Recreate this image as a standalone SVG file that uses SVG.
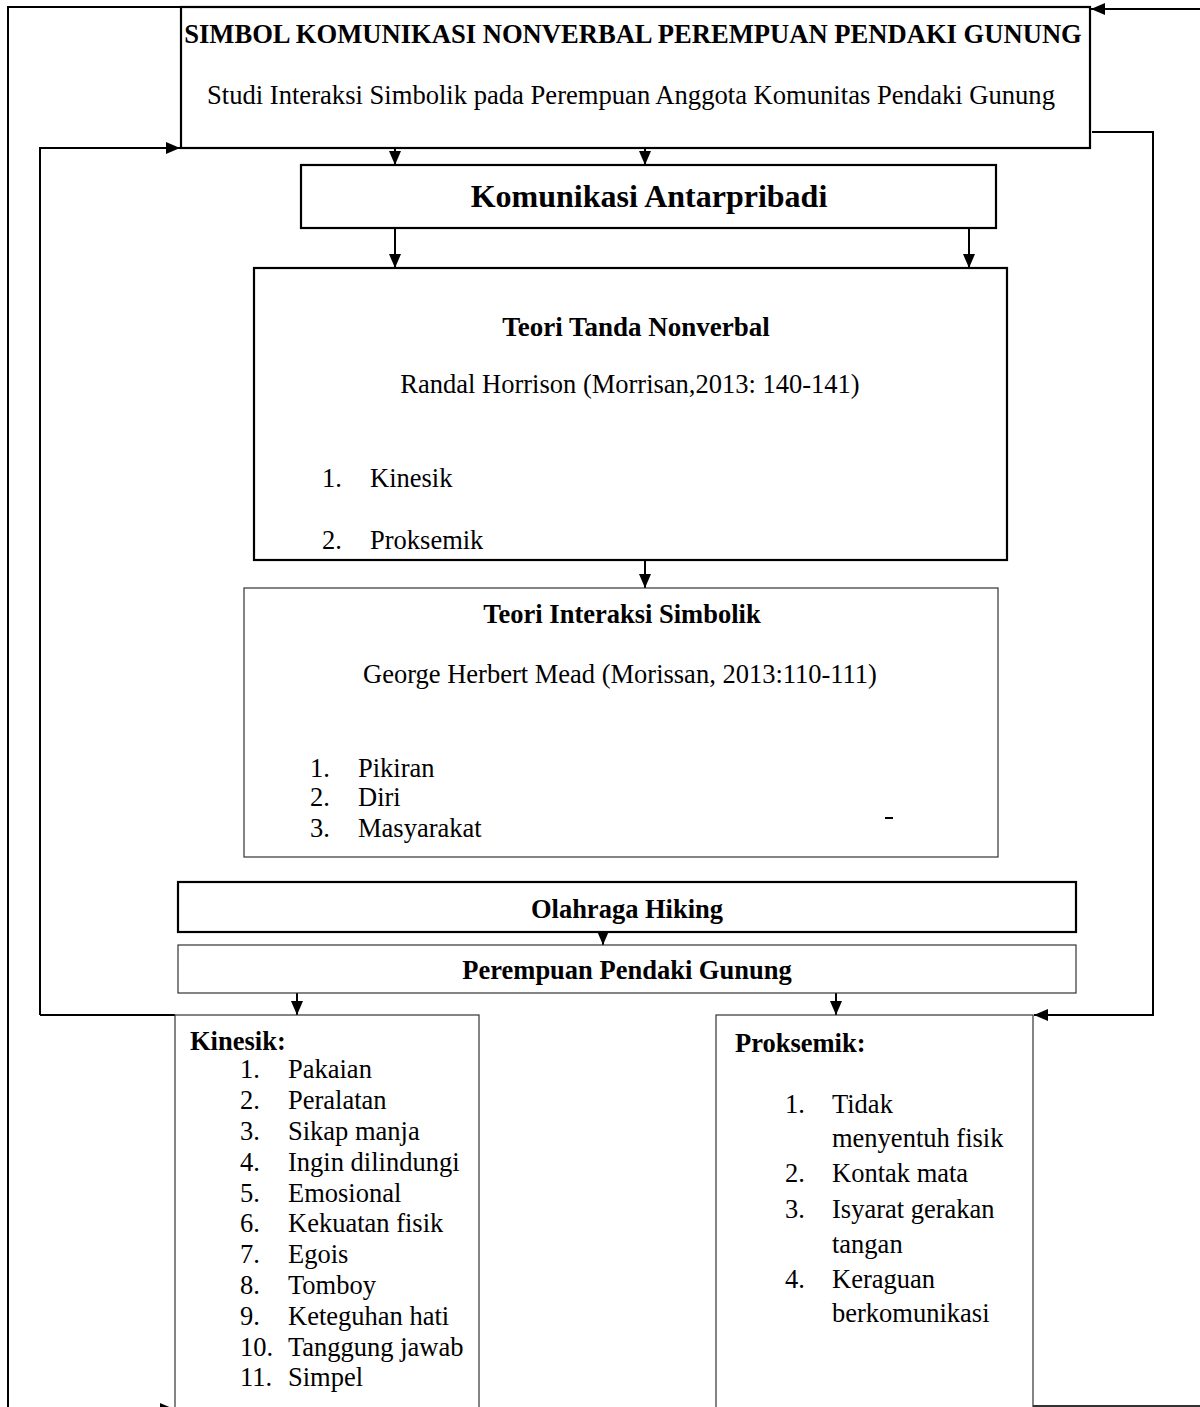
<svg xmlns="http://www.w3.org/2000/svg" width="1200" height="1407" viewBox="0 0 1200 1407">
<style>
text{font-family:"Liberation Serif","Times New Roman",serif;font-size:26.5px;fill:#000}
.b{font-weight:bold}
.c{text-anchor:middle}
.t1{font-size:26.6px}
.t2{font-size:32px}
.t3{font-size:27px}
.thick{fill:#fff;stroke:#000;stroke-width:2.2}
.thin{fill:#fff;stroke:#333;stroke-width:1.2}
.ln{fill:none;stroke:#000;stroke-width:2}
</style>
<defs>
<marker id="ah" markerUnits="userSpaceOnUse" markerWidth="14" markerHeight="14" viewBox="0 0 14 14" refX="14" refY="7" orient="auto">
<path d="M0,1 L14,7 L0,13 Z" fill="#000"/>
</marker>
</defs>
<g id="connectors">
<polyline class="ln" points="8,1407 8,7 181,7"/>
<line class="ln" x1="1200" y1="9" x2="1091" y2="9" marker-end="url(#ah)"/>
<polyline class="ln" points="40,1015 40,148 180,148" marker-end="url(#ah)"/>
<line class="ln" x1="40" y1="1015" x2="175" y2="1015"/>
<polyline class="ln" points="1092,132 1153,132 1153,1015 1034,1015" marker-end="url(#ah)"/>
<line class="ln" x1="395" y1="148" x2="395" y2="165" marker-end="url(#ah)"/>
<line class="ln" x1="645" y1="148" x2="645" y2="165" marker-end="url(#ah)"/>
<line class="ln" x1="395" y1="228" x2="395" y2="268" marker-end="url(#ah)"/>
<line class="ln" x1="969" y1="228" x2="969" y2="268" marker-end="url(#ah)"/>
<line class="ln" x1="645" y1="560" x2="645" y2="588" marker-end="url(#ah)"/>
<line class="ln" x1="603" y1="932" x2="603" y2="945" marker-end="url(#ah)"/>
<line class="ln" x1="297" y1="993" x2="297" y2="1015" marker-end="url(#ah)"/>
<line class="ln" x1="836" y1="993" x2="836" y2="1015" marker-end="url(#ah)"/>
<line class="ln" x1="8" y1="1409" x2="174" y2="1409" marker-end="url(#ah)"/>
<line x1="1009" y1="1406" x2="1200" y2="1406" stroke="#333" stroke-width="2"/>
</g>
<g id="title">
<rect class="thick" x="181" y="7" width="909" height="141"/>
<text class="b c t1" x="633" y="43">SIMBOL KOMUNIKASI NONVERBAL PEREMPUAN PENDAKI GUNUNG</text>
<text class="c t1" x="631" y="104">Studi Interaksi Simbolik pada Perempuan Anggota Komunitas Pendaki Gunung</text>
</g>
<g id="komunikasi">
<rect class="thick" x="301" y="165" width="695" height="63"/>
<text class="b c t2" x="649" y="207">Komunikasi Antarpribadi</text>
</g>
<g id="teori-tanda">
<rect class="thick" x="254" y="268" width="753" height="292"/>
<text class="b c t3" x="636" y="336">Teori Tanda Nonverbal</text>
<text class="c" x="630" y="393">Randal Horrison (Morrisan,2013: 140-141)</text>
<text x="322" y="487">1.</text><text x="370" y="487">Kinesik</text>
<text x="322" y="549">2.</text><text x="370" y="549">Proksemik</text>
</g>
<g id="teori-interaksi">
<rect class="thin" x="244" y="588" width="754" height="269"/>
<text class="b c" x="622" y="623">Teori Interaksi Simbolik</text>
<text class="c" x="620" y="683">George Herbert Mead (Morissan, 2013:110-111)</text>
<text x="310" y="777">1.</text><text x="358" y="777">Pikiran</text>
<text x="310" y="806">2.</text><text x="358" y="806">Diri</text>
<text x="310" y="837">3.</text><text x="358" y="837">Masyarakat</text>
<line x1="885" y1="818" x2="893" y2="818" stroke="#000" stroke-width="2"/>
</g>
<g id="olahraga">
<rect class="thick" x="178" y="882" width="898" height="50"/>
<text class="b c" x="627" y="918">Olahraga Hiking</text>
</g>
<g id="perempuan">
<rect class="thin" x="178" y="945" width="898" height="48"/>
<text class="b c" x="627" y="979">Perempuan Pendaki Gunung</text>
</g>
<g id="kinesik">
<rect class="thin" x="175" y="1015" width="304" height="420"/>
<text class="b" x="190" y="1050">Kinesik:</text>
<text x="240" y="1078">1.</text><text x="288" y="1078">Pakaian</text>
<text x="240" y="1109">2.</text><text x="288" y="1109">Peralatan</text>
<text x="240" y="1140">3.</text><text x="288" y="1140">Sikap manja</text>
<text x="240" y="1171">4.</text><text x="288" y="1171">Ingin dilindungi</text>
<text x="240" y="1202">5.</text><text x="288" y="1202">Emosional</text>
<text x="240" y="1232">6.</text><text x="288" y="1232">Kekuatan fisik</text>
<text x="240" y="1263">7.</text><text x="288" y="1263">Egois</text>
<text x="240" y="1294">8.</text><text x="288" y="1294">Tomboy</text>
<text x="240" y="1325">9.</text><text x="288" y="1325">Keteguhan hati</text>
<text x="240" y="1356">10.</text><text x="288" y="1356">Tanggung jawab</text>
<text x="240" y="1386">11.</text><text x="288" y="1386">Simpel</text>
</g>
<g id="proksemik">
<rect class="thin" x="716" y="1015" width="317" height="420"/>
<text class="b" x="735" y="1052">Proksemik:</text>
<text x="785" y="1113">1.</text><text x="832" y="1113">Tidak</text>
<text x="832" y="1147">menyentuh fisik</text>
<text x="785" y="1182">2.</text><text x="832" y="1182">Kontak mata</text>
<text x="785" y="1218">3.</text><text x="832" y="1218">Isyarat gerakan</text>
<text x="832" y="1253">tangan</text>
<text x="785" y="1288">4.</text><text x="832" y="1288">Keraguan</text>
<text x="832" y="1322">berkomunikasi</text>
</g>
</svg>
